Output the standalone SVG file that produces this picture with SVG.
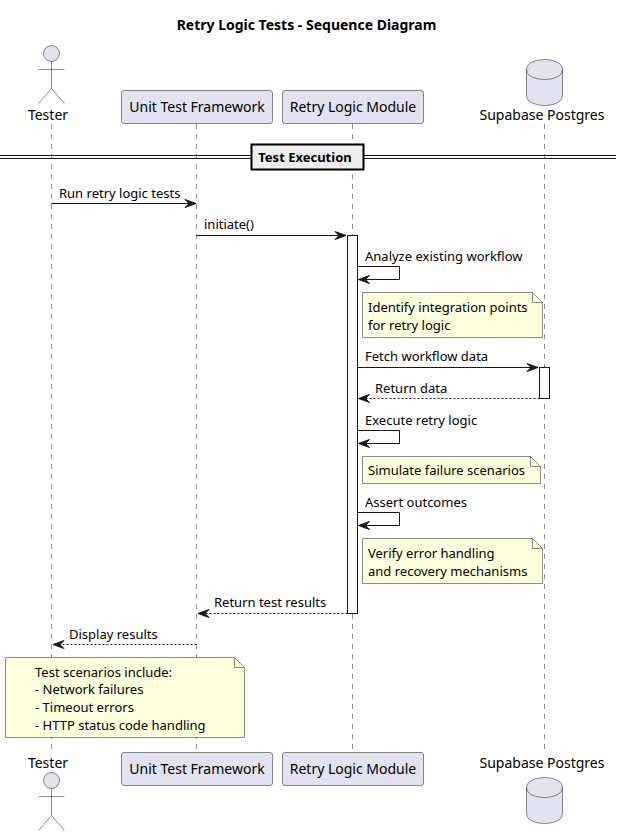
<svg xmlns="http://www.w3.org/2000/svg" width="621" height="836" viewBox="0 0 621 836">
<style>
text{font-family:"Noto Sans","DejaVu Sans",sans-serif;fill:#000}
.m{font-size:13px}
.p{font-size:14px}
.life{stroke:#181818;stroke-width:.5;stroke-dasharray:5 5;fill:none}
.shape{fill:#E2E2F0;stroke:#181818;stroke-width:.5}
.open{fill:none;stroke:#181818;stroke-width:.5}
.ln{stroke:#181818;stroke-width:1;fill:none}
.dash{stroke:#181818;stroke-width:1;stroke-dasharray:2 2;fill:none}
.act{fill:#fff;stroke:#181818;stroke-width:1}
.note{fill:#FEFFDD;stroke:#181818;stroke-width:.5}
.head{fill:#181818;stroke:#181818;stroke-width:1}
</style>
<defs>
<path id="ar" class="head" d="M0 0L-11-4L-7 0L-11 4Z"/>
<path id="al" class="head" d="M0 0L11-4L7 0L11 4Z"/>
<g id="stick"><circle class="shape" cx="0" cy="0" r="8"/><path class="open" d="M0 8V35M-13 16H13M0 35L-13 50M0 35L13 50"/></g>
<g id="cyl"><path class="shape" d="M-18 10C-18 0 0 0 0 0C0 0 18 0 18 10V36C18 46 0 46 0 46C0 46 -18 46 -18 36Z"/><path class="open" d="M-18 10C-18 20 0 20 0 20C0 20 18 20 18 10"/></g>
</defs>
<text id="title" x="306.500" y="30" text-anchor="middle" font-size="14" font-weight="700">Retry Logic Tests - Sequence Diagram</text>
<g id="lifelines">
<path class="life" d="M51.500 124V752"/>
<path class="life" d="M196.500 124V752"/>
<path class="life" d="M352.500 124V752"/>
<path class="life" d="M544.500 124V752"/>
</g>
<g id="tester">
<use href="#stick" x="51.500" y="53.500"/>
<text class="p" x="48" y="120" text-anchor="middle">Tester</text>
<text class="p" x="48" y="768" text-anchor="middle">Tester</text>
<use href="#stick" x="51.500" y="780.500"/>
</g>
<g id="unit-test-framework">
<rect class="shape" x="121.500" y="90.500" width="151" height="33" rx="2.500"/>
<text class="p" x="197" y="112" text-anchor="middle">Unit Test Framework</text>
<rect class="shape" x="121.500" y="752.500" width="151" height="33" rx="2.500"/>
<text class="p" x="197" y="774" text-anchor="middle">Unit Test Framework</text>
</g>
<g id="retry-logic-module">
<rect class="shape" x="282.500" y="90.500" width="141" height="33" rx="2.500"/>
<text class="p" x="353" y="112" text-anchor="middle">Retry Logic Module</text>
<rect class="shape" x="282.500" y="752.500" width="141" height="33" rx="2.500"/>
<text class="p" x="353" y="774" text-anchor="middle">Retry Logic Module</text>
</g>
<g id="supabase-postgres">
<use href="#cyl" x="544.500" y="59.500"/>
<text class="p" x="542" y="120" text-anchor="middle">Supabase Postgres</text>
<text class="p" x="542" y="768" text-anchor="middle">Supabase Postgres</text>
<use href="#cyl" x="544.500" y="777.500"/>
</g>
<g id="divider">
<path class="ln" d="M0 155.500H616M0 158.500H616"/>
<rect x="251.500" y="144.500" width="112" height="25" fill="#EEEEEE" stroke="#000" stroke-width="2"/>
<text x="305" y="162" text-anchor="middle" font-size="13" font-weight="700">Test Execution</text>
</g>
<g id="activations">
<rect class="act" x="347.500" y="235.500" width="10" height="378"/>
<rect class="act" x="539.500" y="367.500" width="10" height="31"/>
</g>
<g id="connectors">
<path class="ln" d="M51.500 203.500H195"/><use href="#ar" x="196" y="203.500"/>
<path class="ln" d="M196.500 235.500H345"/><use href="#ar" x="346" y="235.500"/>
<path class="ln" d="M357.500 266.500H399.500V279.500H359"/><use href="#al" x="358.500" y="279.500"/>
<path class="ln" d="M357.500 367.500H537"/><use href="#ar" x="538" y="367.500"/>
<path class="dash" d="M539.500 398.500H360"/><use href="#al" x="358.500" y="398.500"/>
<path class="ln" d="M357.500 430.500H399.500V443.500H359"/><use href="#al" x="358.500" y="443.500"/>
<path class="ln" d="M357.500 512.500H399.500V525.500H359"/><use href="#al" x="358.500" y="525.500"/>
<path class="dash" d="M347.500 613.500H199"/><use href="#al" x="198" y="613.500"/>
<path class="dash" d="M196.500 644.500H54"/><use href="#al" x="53" y="644.500"/>
</g>
<g id="messages">
<text class="m" x="59" y="198">Run retry logic tests</text>
<text class="m" x="204" y="229">initiate()</text>
<text class="m" x="365" y="261">Analyze existing workflow</text>
<text class="m" x="365" y="361">Fetch workflow data</text>
<text class="m" x="375" y="393">Return data</text>
<text class="m" x="365" y="425">Execute retry logic</text>
<text class="m" x="365" y="507">Assert outcomes</text>
<text class="m" x="214" y="607">Return test results</text>
<text class="m" x="69" y="639">Display results</text>
</g>
<g id="note-integration">
<path class="note" d="M362.500 292.500H532.500L542.500 302.500V337.500H362.500Z"/><path class="open" d="M532.500 292.500V302.500H542.500"/>
<text class="m" x="368" y="312">Identify integration points</text>
<text class="m" x="368" y="330">for retry logic</text>
</g>
<g id="note-simulate">
<path class="note" d="M362.500 456.500H530.500L540.500 466.500V483.500H362.500Z"/><path class="open" d="M530.500 456.500V466.500H540.500"/>
<text class="m" x="368" y="475">Simulate failure scenarios</text>
</g>
<g id="note-verify">
<path class="note" d="M362.500 538.500H532.500L542.500 548.500V583.500H362.500Z"/><path class="open" d="M532.500 538.500V548.500H542.500"/>
<text class="m" x="368" y="558">Verify error handling</text>
<text class="m" x="368" y="576">and recovery mechanisms</text>
</g>
<g id="note-scenarios">
<path class="note" d="M5.500 657.500H234.500L244.500 667.500V737.500H5.500Z"/><path class="open" d="M234.500 657.500V667.500H244.500"/>
<text class="m" x="35" y="677">Test scenarios include:</text>
<text class="m" x="35" y="694">- Network failures</text>
<text class="m" x="35" y="712">- Timeout errors</text>
<text class="m" x="35" y="730">- HTTP status code handling</text>
</g>
</svg>
